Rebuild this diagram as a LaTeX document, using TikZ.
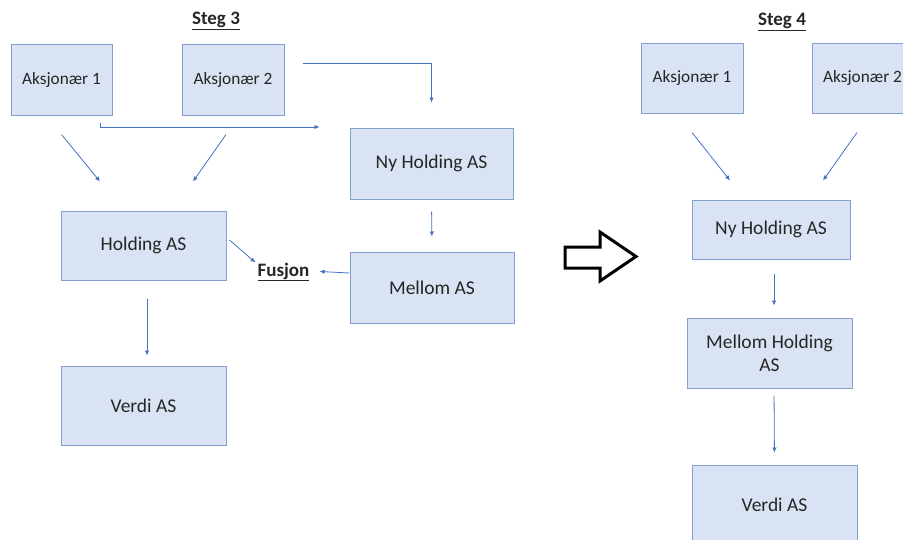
\documentclass[tikz,border=0pt]{standalone}
\usepackage{fontspec}
\setmainfont{Carlito}
\usetikzlibrary{arrows.meta}
\definecolor{boxfill}{RGB}{218,227,243}
\definecolor{boxline}{RGB}{132,158,208}
\definecolor{arrowblue}{RGB}{68,114,196}
\definecolor{txt}{RGB}{38,38,38}
\tikzset{
  firm/.style={draw=boxline, fill=boxfill, line width=1pt, text=txt,
    font=\fontsize{19.5}{23}\selectfont, align=center, inner sep=0pt},
  owner/.style={firm, font=\fontsize{17.3}{21}\selectfont},
  conn/.style={draw=arrowblue, line width=0.8pt, -{Latex[length=5pt,width=4.5pt]}},
  heading/.style={font=\bfseries\fontsize{19}{22}\selectfont, text=txt}
}
\begin{document}
\begin{tikzpicture}[x=1pt,y=-1pt]
	\useasboundingbox (0,0) rectangle (903,539);
	\clip (0,0) rectangle (903,539);

	% steg 3
	\node[heading] (steg3) at (216,21) {\underline{Steg 3}};
	\node[owner, minimum width=101pt, minimum height=71pt] (aks1) at (61.5,79.5) {Aksjonær 1};
	\node[owner, minimum width=102pt, minimum height=71pt] (aks2) at (233,79.5) {Aksjonær 2};
	\node[firm, minimum width=163pt, minimum height=71pt] (nyhold) at (431.5,163.5) {Ny Holding AS};
	\node[firm, minimum width=165pt, minimum height=69pt] (hold) at (143.5,245.5) {Holding AS};
	\node[firm, minimum width=164pt, minimum height=71pt] (mellom) at (432,287.5) {Mellom AS};
	\node[firm, minimum width=165pt, minimum height=79pt] (verdi) at (143.5,405.5) {Verdi AS};
	\node[heading, inner sep=1pt] (fusjon) at (283.5,272) {\underline{Fusjon}};

	% arrows steg 3
	\draw[conn, shorten >=25pt] ([xshift=18pt,yshift=16.5pt]aks2.east) -| (nyhold.north);
	\draw[conn] ([xshift=38.5pt,yshift=-7pt]aks1.south) |- ([xshift=-30pt,yshift=36.5pt]nyhold.west);
	\draw[conn] ([yshift=-19pt]aks1.south) -- ([xshift=-43.5pt,yshift=29pt]hold.north);
	\draw[conn] ([xshift=-7pt,yshift=-19pt]aks2.south) -- ([xshift=49.5pt,yshift=29pt]hold.north);
	\draw[conn] ([xshift=3pt,yshift=5.5pt]hold.east) -- ([xshift=-1pt,yshift=-1pt]fusjon.north west);
	\draw[conn, shorten >=9pt] ([yshift=14.5pt]mellom.west) -- ([yshift=1pt]fusjon.east);
	\draw[conn, shorten <=12pt, shorten >=15pt] (nyhold.south) -- (mellom.north);
	\draw[conn, shorten <=18pt, shorten >=10pt] ([xshift=3.5pt]hold.south) -- ([xshift=3.5pt]verdi.north);

	% big arrow
	\draw[line width=3pt, line join=miter]
	(565,247) -- (600,247) -- (600,232) -- (636,256.5) -- (600,281) -- (600,268) -- (565,268) -- cycle;

	% steg 4
	\node[heading] (steg4) at (782,22) {\underline{Steg 4}};
	\node[owner, minimum width=102pt, minimum height=70pt] (aks1r) at (692,78) {Aksjonær 1};
	\node[owner, minimum width=100pt, minimum height=70pt] (aks2r) at (862.5,78) {Aksjonær 2};
	\node[firm, minimum width=158pt, minimum height=59pt] (nyholdr) at (771,229.5) {Ny Holding AS};
	\node[firm, minimum width=165pt, minimum height=70pt] (mellomr) at (769.5,353) {Mellom Holding\\AS};
	\node[firm, minimum width=165pt, minimum height=80pt] (verdir) at (774.5,505) {Verdi AS};

	% arrows steg 4
	\draw[conn] ([yshift=-19pt]aks1r.south) -- ([xshift=-41pt,yshift=19pt]nyholdr.north);
	\draw[conn] ([xshift=-5.5pt,yshift=-19pt]aks2r.south) -- ([xshift=52pt,yshift=19pt]nyholdr.north);
	\draw[conn, shorten <=14pt, shorten >=12pt] ([xshift=3pt]nyholdr.south) -- ([xshift=4.5pt]mellomr.north);
	\draw[conn, shorten <=7pt, shorten >=12pt] ([xshift=4.5pt]mellomr.south) -- (verdir.north);

\end{tikzpicture}
\end{document}
